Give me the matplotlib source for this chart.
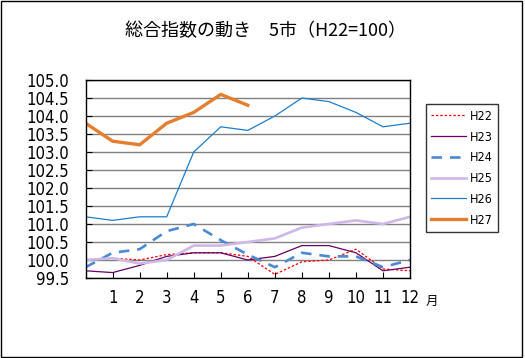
import matplotlib
matplotlib.use("Agg")
import matplotlib.pyplot as plt
from matplotlib.patches import Rectangle

plt.rcParams['font.family'] = ['DejaVu Sans', 'Noto Sans CJK JP']

months = list(range(0, 13))
month_labels = [""] + [str(m) for m in range(1, 13)]
y_ticks = [99.5, 100.0, 100.5, 101.0, 101.5, 102.0, 102.5, 103.0, 103.5, 104.0, 104.5, 105.0]

H22 = [100.0, 100.05, 100.0, 100.15, 100.2, 100.2, 100.1, 99.6, 99.95, 100.0, 100.3, 99.75, 99.7]
H23 = [99.7, 99.65, 99.85, 100.1, 100.2, 100.2, 100.0, 100.1, 100.4, 100.4, 100.2, 99.7, 99.8]
H24 = [99.8, 100.2, 100.3, 100.8, 101.0, 100.55, 100.15, 99.8, 100.2, 100.1, 100.1, 99.8, 100.0]
H25 = [100.0, 100.05, 99.9, 100.0, 100.4, 100.4, 100.5, 100.6, 100.9, 101.0, 101.1, 101.0, 101.2]
H26 = [101.2, 101.1, 101.2, 101.2, 103.0, 103.7, 103.6, 104.0, 104.5, 104.4, 104.1, 103.7, 103.8]
H27 = [103.8, 103.3, 103.2, 103.8, 104.1, 104.6, 104.3]

fig = plt.figure(figsize=(5.25, 3.58), dpi=100)
ax = fig.add_axes([0.163, 0.2235, 0.618, 0.553])

ax.plot(months, H22, color='#FF0000', lw=0.9, ls=(0, (2, 1.5)), label='H22')
ax.plot(months, H23, color='#660066', lw=0.9, label='H23')
ax.plot(months, H24, color='#4A8AD4', lw=1.9, ls=(0, (4, 3)), label='H24')
ax.plot(months, H25, color='#CDB8E8', lw=1.9, label='H25')
ax.plot(months, H26, color='#1B7FD0', lw=0.9, label='H26')
ax.plot(months[:len(H27)], H27, color='#E57E2E', lw=2.4, label='H27')

ax.set_xlim(0, 12)
ax.set_ylim(99.5, 105.0)
ax.set_xticks(months)
ax.set_xticklabels(month_labels)
ax.set_yticks(y_ticks)
ax.set_yticklabels([f"{v:.1f}" for v in y_ticks])
ax.yaxis.grid(True, color='#808080', lw=1.0)
ax.set_axisbelow(True)
ax.tick_params(axis='both', direction='in', length=4, color='black', labelsize=12)
ax.tick_params(axis='x', pad=8)
ax.tick_params(axis='y', pad=12)
for lab in ax.get_xticklabels() + ax.get_yticklabels():
    lab.set_fontstretch('condensed')
for s in ax.spines.values():
    s.set_color('black')
    s.set_linewidth(1.0)

leg = fig.legend(loc='upper left', bbox_to_anchor=(0.811, 0.709), frameon=True,
                 fancybox=False, edgecolor='black', fontsize=9, handlelength=2.8,
                 labelspacing=0.62, borderpad=0.45, handletextpad=0.25, borderaxespad=0,
                 prop={'size': 9, 'stretch': 'condensed'})
leg.get_frame().set_linewidth(1.0)

fig.text(0.505, 0.913, "総合指数の動き\u30005市（H22=100）", ha='center', va='center',
         fontsize=13, family=['Noto Sans CJK JP', 'DejaVu Sans'])
fig.text(0.823, 0.157, "月", ha='center', va='center', fontsize=9,
         family=['Noto Sans CJK JP', 'DejaVu Sans'])

fig.patches.append(Rectangle((0.001, 0.002), 0.994, 0.995, transform=fig.transFigure,
                             fill=False, edgecolor='black', lw=1.0))

fig.savefig('out.png', dpi=100)
